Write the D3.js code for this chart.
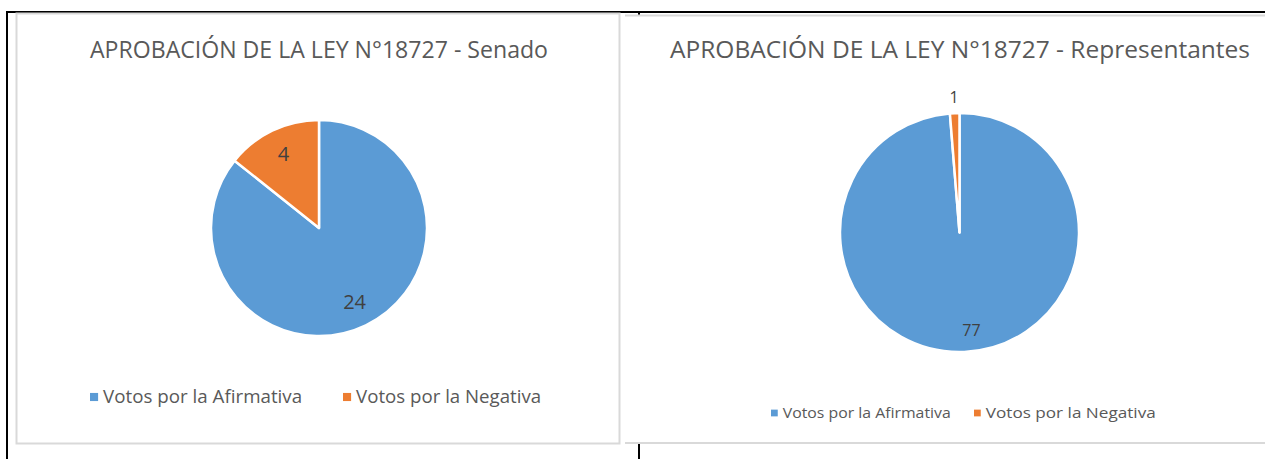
<!DOCTYPE html>
<html>
<head>
<meta charset="utf-8">
<script src="https://cdn.jsdelivr.net/npm/d3@7"></script>
<style>
  body { margin: 0; background: #fff; }
  svg { display: block; font-family: "Open Sans", "Noto Sans", sans-serif; }
</style>
</head>
<body>
<div id="chart"></div>
<script>
const categories = ["Votos por la Afirmativa", "Votos por la Negativa"];
const senadoVotes = [24, 4];
const representantesVotes = [77, 1];
const titles = ["APROBACIÓN DE LA LEY N°18727 - Senado", "APROBACIÓN DE LA LEY N°18727 - Representantes"];

const W = 1265, H = 459;
const color = d3.scaleOrdinal().domain(categories).range(["#5b9bd5", "#ed7d31"]);

const svg = d3.select("#chart").append("svg")
    .attr("width", W)
    .attr("height", H);

// table borders behind the charts
const black = svg.append("g").attr("stroke", "#000").attr("stroke-width", 2);
black.append("line").attr("x1", 7).attr("x2", W).attr("y1", 12).attr("y2", 12);
black.append("line").attr("x1", 7).attr("x2", 7).attr("y1", 11).attr("y2", H);
black.append("line").attr("x1", 639).attr("x2", 639).attr("y1", 11).attr("y2", H);

// chart frames
svg.append("rect")
    .attr("x", 16.5).attr("y", 13.5).attr("width", 603).attr("height", 430)
    .attr("fill", "#fff").attr("stroke", "#d9d9d9").attr("stroke-width", 2);
svg.append("rect")
    .attr("x", 625).attr("y", 15).attr("width", W - 625).attr("height", 428)
    .attr("fill", "#fff");
svg.append("line").attr("x1", 625).attr("x2", W).attr("y1", 15.5).attr("y2", 15.5)
    .attr("stroke", "#d9d9d9").attr("stroke-width", 2);
svg.append("line").attr("x1", 625).attr("x2", W).attr("y1", 443).attr("y2", 443)
    .attr("stroke", "#d9d9d9").attr("stroke-width", 2);

const charts = [
  { values: senadoVotes, title: titles[0], cx: 319, cy: 228, r: 108,
    titleX: 319, titleY: 58, titleW: 458, titleSize: 23,
    labelSize: 20, labelR: 0.76, outside: false,
    legendY: 397, legendX: [90, 343], legendSize: 18, legendW: [199, 185] },
  { values: representantesVotes, title: titles[1], cx: 959.5, cy: 232.5, r: 119.5,
    titleX: 960, titleY: 58, titleW: 580, titleSize: 23,
    labelSize: 16, labelR: 0.82, outside: true,
    legendY: 413, legendX: [771, 974], legendSize: 15, legendW: [168, 170] }
];

const pie = d3.pie().sort(null).value(d => d.value);

// stretch or squeeze text to the width seen in the reference
function fitText(sel, width) {
  sel.attr("textLength", width).attr("lengthAdjust", "spacingAndGlyphs");
}

charts.forEach(c => {
  const data = categories.map((k, i) => ({ key: k, value: c.values[i] }));
  const arcs = pie(data);
  const arc = d3.arc().innerRadius(0).outerRadius(c.r);
  const labelArc = d3.arc().innerRadius(c.r * c.labelR).outerRadius(c.r * c.labelR);
  const outerArc = d3.arc().innerRadius(c.r + 16).outerRadius(c.r + 16);

  const title = svg.append("text")
      .attr("x", c.titleX).attr("y", c.titleY)
      .attr("text-anchor", "middle")
      .attr("fill", "#595959")
      .style("font-size", c.titleSize + "px")
      .text(c.title);
  fitText(title, c.titleW);

  const g = svg.append("g").attr("transform", `translate(${c.cx},${c.cy})`);
  g.selectAll("path")
    .data(arcs)
    .join("path")
      .attr("d", arc)
      .attr("fill", d => color(d.data.key))
      .attr("stroke", "#fff")
      .attr("stroke-width", 2.5)
      .attr("stroke-linejoin", "round");

  g.selectAll("text")
    .data(arcs)
    .join("text")
      .attr("transform", d => {
        const small = c.outside && (d.endAngle - d.startAngle) < 0.3;
        const p = small ? outerArc.centroid(d) : labelArc.centroid(d);
        if (c.outside && !small) p[0] += 8;
        return `translate(${p})`;
      })
      .attr("text-anchor", "middle")
      .attr("dy", "0.35em")
      .attr("fill", "#404040")
      .style("font-size", c.labelSize + "px")
      .text(d => d.data.value);

  const legend = svg.append("g");
  categories.forEach((k, i) => {
    const item = legend.append("g").attr("transform", `translate(${c.legendX[i]},${c.legendY})`);
    const s = c.legendSize * 0.45;
    item.append("rect")
        .attr("x", 0).attr("y", -s / 2).attr("width", s).attr("height", s)
        .attr("fill", color(k));
    const t = item.append("text")
        .attr("x", s + 5).attr("dy", "0.35em")
        .attr("fill", "#595959")
        .style("font-size", c.legendSize + "px")
        .text(k);
    fitText(t, c.legendW[i]);
  });
});
</script>
</body>
</html>
